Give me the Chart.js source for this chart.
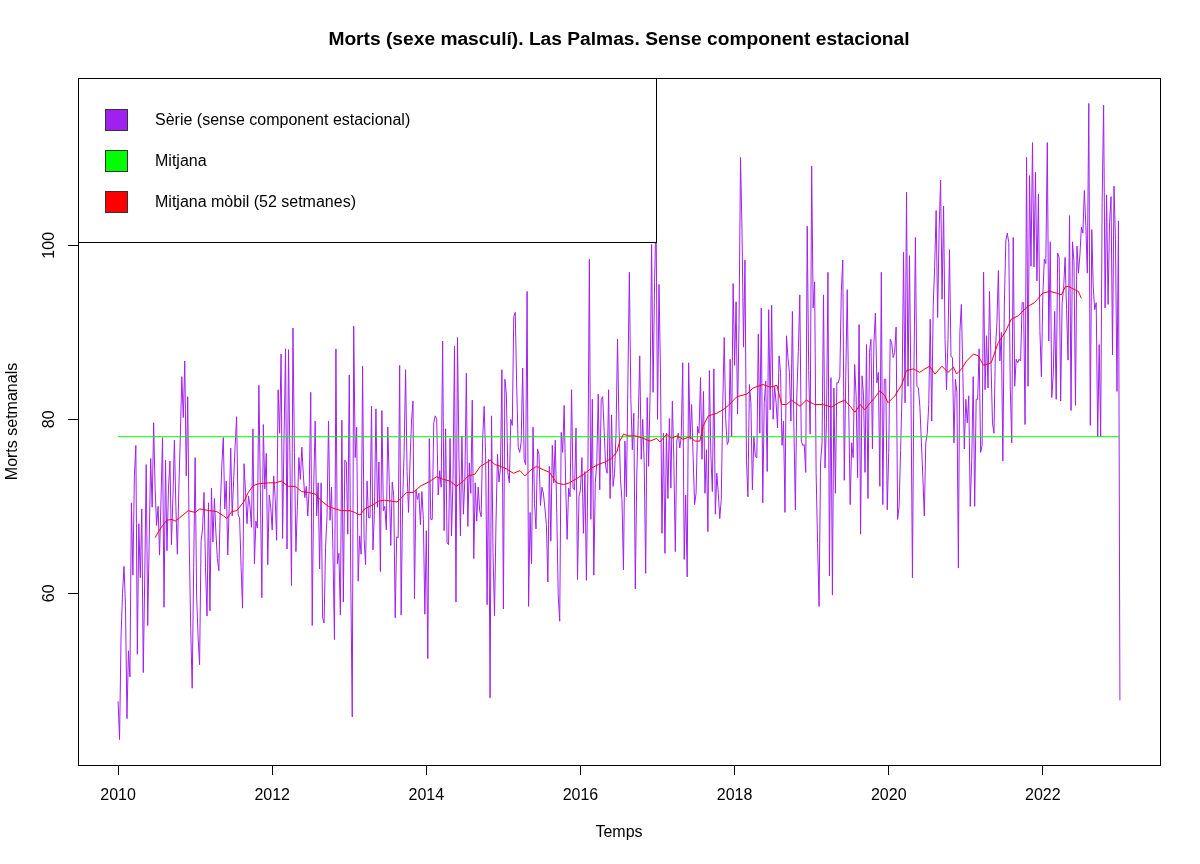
<!DOCTYPE html>
<html>
<head>
<meta charset="utf-8">
<script src="https://cdn.jsdelivr.net/npm/chart.js@4.4.1/dist/chart.umd.min.js"></script>
<style>
  body { margin: 0; background: #fff; }
  canvas { display: block; }
</style>
</head>
<body>
<canvas id="chart" width="1200" height="864"></canvas>
<script>
// weekly series, 52 per year, starting 2010
const startYear = 2010
const freq = 52
const serie = [
  47.6, 43.2, 55, 60, 63.1, 58.6, 45.6, 53.4, 50.4, 70.4,
  62.1, 73.5, 77.0, 53.0, 68.0, 61.8, 69.7, 50.9, 62, 74.8,
  56.3, 66, 75.5, 69.9, 79.6, 72, 67.8, 70, 64.4, 71,
  77.9, 58.4, 75.3, 64.9, 72, 75.2, 65.6, 71, 77.6, 70,
  64.5, 72, 78, 84.9, 80.2, 86.7, 73.5, 82.6, 66, 56,
  49.1, 63, 75.6, 59.7, 55, 51.8, 66, 67.4, 71.6, 63,
  57.4, 70.4, 58.0, 72.1, 65.9, 70.9, 67, 64, 62.6, 70,
  74.7, 77.9, 69.7, 72.9, 64.4, 70, 76.7, 68.9, 73.1, 77,
  80.3, 69.0, 68.7, 63, 58.3, 74.9, 71.6, 68, 71.2, 70,
  67.6, 78.9, 63.4, 68.3, 67.5, 83.9,
  72, 59.5, 79.4, 72.0, 76.1, 63.3, 71.3, 69.9, 67.3, 73.5,
  71.0, 66.1, 83.4, 78.4, 87.5, 66.3, 78, 88.1, 65.1, 88.0,
  75, 60.9, 90.5, 76.2, 64.8, 70, 75.6, 73.1, 76.8, 73.7,
  71.0, 72.3, 68.9, 72.3, 83.1, 56.3, 72.3, 79.8, 68.9, 72.7,
  62.8, 72.7, 57.2, 56.6, 65.3, 68.9, 79.8, 68.4, 72.2, 64.8,
  54.7, 88.1, 63.4, 64.6, 57.5, 79.9, 59.0, 75.3, 75.1, 66.8,
  85.1, 61.8, 45.8, 90.7, 75.6, 79.1, 61.4, 66.6, 64.5, 86.1,
  66.3, 63.3, 72.9, 68.7, 68.7, 81.5, 65.0, 69.5, 81.2, 69.9,
  75.1, 62.5, 81.0, 69.5, 70.0, 67.3, 79.1, 72.7, 65.5, 72.8,
  71.2, 57.2, 66.5, 66.4, 86.2, 57.5, 70.4, 76.2, 85.7, 74.0,
  69.3, 75.2, 79.8,
  82.1, 59.4, 71.9, 70.8, 71.5, 67.9, 71.7, 68.5, 57.6, 67.2,
  52.5, 77.8, 68.5, 68.5, 79.6, 80.4, 80.0, 71.3, 74.1, 72.2,
  89.0, 67.2, 78.9, 65.8, 65.6, 77.8, 66.6, 73.1, 88.4, 59.0,
  89.4, 75.8, 66.6, 78.1, 69.1, 73.1, 85.3, 67.7, 75.0, 71.5,
  82.2, 64.0, 72.7, 68.3, 72.2, 69.5, 68.8, 77.7, 81.5, 76.0,
  58.7, 75.4, 48.0, 80.4, 64.7, 57.4, 68.1, 76.0, 72.8, 74.3,
  85.7, 58.2, 84.6, 82.9, 73.9, 72.7, 80.0, 79.3, 91.8, 92.3,
  83.5, 76.8, 76.2, 77.4, 85.9, 75.4, 74.8, 94.7, 58.5, 69.3,
  63.4, 79.1, 70.3, 67.4, 76.6, 76.0, 70.1, 72.2, 71.5, 69.8,
  67.9, 61.3, 74.6, 66.0, 77.0, 72.7, 77.6, 69.3, 59.7, 56.8,
  78.5, 76.2, 81.6, 72.7, 66.2,
  72.1, 71.1, 83.4, 72.1, 71.9, 79.0, 61.6, 71.1, 71.9, 75.6,
  66.9, 74.0, 61.5, 73.8, 98.4, 68.5, 82.3, 62.1, 72.7, 75.0,
  82.9, 71.9, 82.3, 82.6, 78.6, 74.6, 73.8, 83.4, 70.9, 80.5,
  72.3, 73.8, 78.4, 89.2, 79.2, 73.1, 70.8, 62.7, 77.5, 71.1,
  84.4, 96.9, 82.3, 76.5, 80.7, 60.5, 73.5, 80.0, 87.3, 75.4,
  80.0, 75.0, 62.3, 82.5, 74.6, 83.1, 100.1, 83.1, 95.7, 103.6,
  80.0, 95.5, 85.3, 66.9, 78.4, 64.6, 78.4, 70.9, 80.1, 72.1,
  82.1, 75.4, 64.8, 77.5, 78.4, 76.7, 78.0, 86.5, 63.9, 71.3,
  61.9, 86.5, 77.7, 81.7, 75.8, 70.2, 71.5, 79.2, 78.4, 84.8,
  75.4, 83.2, 71.5, 76.5, 67.1, 85.6, 75.8, 71.7, 85.8, 69.1,
  73.8, 71.5, 68.6, 70.8, 81.5,
  89.4, 80.0, 77.1, 77.5, 86.9, 78, 95.6, 86.2, 93.5, 80.6,
  91.0, 110.1, 101.7, 88.3, 98.3, 75.3, 71.1, 84.0, 81.9, 71.9,
  78.0, 75.7, 75.6, 89.8, 78.4, 92.8, 70.4, 81.9, 84.4, 74.0,
  92.6, 81.1, 93.1, 80.0, 83.8, 81.9, 79.0, 87.3, 85.4, 77.0,
  79.8, 69.3, 89.6, 87.1, 85.4, 79.8, 92.4, 79.2, 69.6, 82.8,
  87.8, 94.3, 77.5, 77.0, 77.1, 73.9, 102.2, 85.6, 78.3, 109.1,
  92.8, 95.8, 73.9, 65.7, 58.5, 75.0, 77.3, 94.3, 74.4, 79.6,
  96.9, 62.0, 84.8, 59.8, 83.6, 71.5, 84.2, 84.2, 84.9, 94.7,
  98.3, 73.0, 84.9, 94.9, 81.5, 70.2, 77.3, 75.6, 86.3, 82.7,
  73.3, 90.9, 66.8, 85.0, 82.7, 73.9, 88.6, 70.9, 87.7, 89.2,
  76.6, 88.8, 92.2, 84.2, 85.4,
  72.3, 96.9, 70.2, 84.6, 84.6, 69.6, 76.2, 89.2, 88.8, 87.1,
  87.7, 90.6, 68.5, 70.0, 76.4, 83.1, 99.2, 81.9, 106.1, 83.8,
  98.8, 83.1, 61.8, 85.4, 100.9, 83.8, 83.6, 81.5, 77.5, 73.5,
  68.9, 77.3, 78.4, 81.7, 91.5, 79.8, 93.0, 97.6, 104.0, 91.7,
  101.8, 107.5, 93.8, 104.5, 89.2, 83.4, 89.2, 99.5, 87.2, 87.1,
  77.3, 84.6, 83.1, 62.9, 90.0, 93.2, 85.4, 76.6, 82.3, 79.6,
  82.7, 70.0, 75.3, 84.9, 70.0, 82.3, 82.3, 88.1, 76.2, 77.0,
  96.9, 83.4, 89.6, 83.6, 94.7, 86.5, 79.6, 78.4, 88.1, 91.1,
  97.1, 86.7, 90.0, 75.2, 93.0, 100.5, 101.4, 100.3, 83.8, 77.3,
  100.9, 83.8, 86.9, 86.5, 86.9, 86.7, 93.4, 93.4, 79.4, 110.1,
  83.8, 108.0, 97.6, 111.8,
  97.5, 108.4, 95.9, 105.9, 90.2, 84.9, 94.4, 98.4, 97.9, 111.8,
  89.0, 100.4, 82.5, 85.1, 92.4, 82.3, 99.1, 98.6, 82.1, 93.4,
  95.0, 98.6, 92.6, 86.8, 103.4, 81.0, 100.4, 98.1, 81.6, 99.9,
  96.8, 98.9, 102.1, 101.4, 106.3, 102.3, 96.8, 116.3, 79.3, 101.8,
  95.2, 92.6, 93.4, 78.0, 88.6, 78.0, 104.9, 116.1, 92.8, 105.8,
  93.2, 102.6, 105.6, 87.4, 106.8, 100.7, 83.2, 102.8, 47.7
]

// mitjana mobil (52 setmanes)
const maYears = [
  2010.48, 2010.545, 2010.63, 2010.70, 2010.74, 2010.80, 2010.91, 2011.00, 2011.06, 2011.19,
  2011.28, 2011.37, 2011.41, 2011.475, 2011.54, 2011.63, 2011.69, 2011.755, 2011.83, 2011.95,
  2012.04, 2012.12, 2012.21, 2012.30, 2012.38, 2012.47, 2012.56, 2012.64, 2012.73, 2012.82,
  2012.90, 2013.01, 2013.07, 2013.14, 2013.20, 2013.29, 2013.38, 2013.46, 2013.55, 2013.62,
  2013.68, 2013.745, 2013.83, 2013.92, 2014.05, 2014.13, 2014.22, 2014.31, 2014.39, 2014.48,
  2014.545, 2014.63, 2014.70, 2014.76, 2014.83, 2014.89, 2014.96, 2015.04, 2015.13, 2015.215,
  2015.28, 2015.345, 2015.43, 2015.52, 2015.60, 2015.69, 2015.78, 2015.855, 2015.97, 2016.06,
  2016.145, 2016.23, 2016.32, 2016.40, 2016.47, 2016.51, 2016.56, 2016.62, 2016.71, 2016.79,
  2016.90, 2016.99, 2017.03, 2017.12, 2017.18, 2017.25, 2017.33, 2017.42, 2017.485, 2017.55,
  2017.59, 2017.66, 2017.77, 2017.865, 2017.92, 2018.03, 2018.16, 2018.24, 2018.37, 2018.46,
  2018.55, 2018.61, 2018.675, 2018.74, 2018.85, 2018.93, 2019.04, 2019.15, 2019.26, 2019.345,
  2019.43, 2019.50, 2019.56, 2019.63, 2019.69, 2019.76, 2019.82, 2019.885, 2019.95, 2019.99,
  2020.08, 2020.17, 2020.23, 2020.32, 2020.40, 2020.47, 2020.53, 2020.60, 2020.69, 2020.77,
  2020.84, 2020.88, 2020.945, 2021.01, 2021.10, 2021.16, 2021.23, 2021.33, 2021.42, 2021.51,
  2021.59, 2021.68, 2021.77, 2021.83, 2021.89, 2021.96, 2022.00, 2022.09, 2022.18, 2022.24,
  2022.29, 2022.33, 2022.39, 2022.46, 2022.48, 2022.50
]
const maValues = [
  66.4, 67.4, 68.4, 68.5, 68.3, 68.7, 69.5, 69.3, 69.7, 69.5,
  69.4, 68.9, 68.6, 69.4, 69.5, 70.5, 71.6, 72.4, 72.6, 72.7,
  72.7, 72.9, 72.3, 72.3, 71.7, 71.6, 71.4, 70.6, 70.0, 69.7,
  69.5, 69.5, 69.3, 69.0, 69.7, 70.1, 70.6, 70.7, 70.6, 70.5,
  71.0, 71.6, 71.6, 72.3, 72.9, 73.4, 73.1, 72.9, 72.3, 72.9,
  73.5, 73.7, 74.6, 74.9, 75.3, 74.8, 74.6, 74.3, 73.8, 74.1,
  73.5, 74.1, 74.6, 74.2, 73.9, 72.7, 72.5, 72.7, 73.3, 73.8,
  74.4, 74.8, 75.1, 75.5, 76.2, 77.5, 78.3, 78.1, 78.1, 77.9,
  77.5, 77.8, 77.4, 78.3, 77.8, 78.1, 77.7, 78.0, 77.5, 77.5,
  79.2, 80.4, 80.7, 81.2, 81.6, 82.6, 82.9, 83.6, 84.0, 83.7,
  83.9, 81.7, 81.7, 82.2, 81.5, 82.2, 81.7, 81.7, 81.4, 81.9,
  82.2, 81.5, 80.8, 81.7, 81.1, 81.9, 82.5, 83.3, 82.7, 81.9,
  82.7, 84.0, 85.6, 85.8, 85.4, 85.8, 86.1, 85.2, 86.1, 85.4,
  86.0, 85.2, 85.8, 86.7, 87.5, 87.3, 86.2, 86.5, 88.8, 90.0,
  91.5, 91.9, 92.7, 93.1, 93.4, 94.1, 94.5, 94.7, 94.5, 94.3,
  95.2, 95.3, 95.0, 94.7, 94.3, 93.9
]

const meanValue = 78.0
const xTicks = [2010, 2012, 2014, 2016, 2018, 2020, 2022]
const yTicks = [60, 80, 100]

const legendLabels = ['Sèrie (sense component estacional)', 'Mitjana', 'Mitjana mòbil (52 setmanes)']
const legendColors = ['#A020F0', '#00FF00', '#FF0000']

const endYear = startYear + (serie.length - 1) / freq
const seriePoints = serie.map((v, i) => ({ x: startYear + i / freq, y: v }))
const maPoints = maYears.map((yr, i) => ({ x: yr, y: maValues[i] }))
const meanPoints = [{ x: startYear, y: meanValue }, { x: endYear, y: meanValue }]

// R style range: data range + 4%
const xSpan = endYear - startYear
const yMinData = Math.min(...serie), yMaxData = Math.max(...serie)
const ySpan = yMaxData - yMinData

const FONT = '"Liberation Sans", Arial, Helvetica, sans-serif'

const rDecor = {
  id: 'rDecor',
  afterDatasetsDraw(chart) {
    const ctx = chart.ctx
    const a = chart.chartArea
    const ys = chart.scales.y
    ctx.save()

    // legend box, top left
    ctx.fillStyle = '#fff'
    ctx.fillRect(a.left, a.top, 578, 164)
    ctx.strokeStyle = '#000'
    ctx.lineWidth = 1
    ctx.strokeRect(a.left + 0.5, a.top + 0.5, 578, 164)
    ctx.font = '16px ' + FONT
    ctx.textBaseline = 'middle'
    ctx.textAlign = 'left'
    legendLabels.forEach((lab, k) => {
      const cy = a.top + 42 + k * 41
      ctx.fillStyle = legendColors[k]
      ctx.fillRect(a.left + 27, cy - 11, 22, 21)
      ctx.strokeStyle = '#333'
      ctx.strokeRect(a.left + 27.5, cy - 10.5, 22, 21)
      ctx.fillStyle = '#000'
      ctx.fillText(lab, a.left + 77, cy + 1)
    })

    // box around plot
    ctx.strokeStyle = '#000'
    ctx.strokeRect(a.left + 0.5, a.top + 0.5, a.right - a.left, a.bottom - a.top)

    // y tick labels, rotated like R
    ctx.fillStyle = '#000'
    ctx.font = '16px ' + FONT
    ctx.textAlign = 'center'
    ctx.textBaseline = 'middle'
    yTicks.forEach(v => {
      const py = ys.getPixelForValue(v)
      ctx.save()
      ctx.translate(50, py)
      ctx.rotate(-Math.PI / 2)
      ctx.fillText(String(v), 0, 0)
      ctx.restore()
    })

    // titles
    ctx.save()
    ctx.translate(13, (a.top + a.bottom) / 2)
    ctx.rotate(-Math.PI / 2)
    ctx.fillText('Morts setmanals', 0, 0)
    ctx.restore()
    ctx.fillText('Temps', (a.left + a.right) / 2, 833)
    ctx.font = 'bold 19.2px ' + FONT
    ctx.fillText('Morts (sexe masculí). Las Palmas. Sense component estacional', (a.left + a.right) / 2, 40)
    ctx.restore()
  }
}

new Chart(document.getElementById('chart'), {
  type: 'line',
  data: {
    datasets: [
      {
        label: legendLabels[2],
        data: maPoints,
        borderColor: legendColors[2],
        borderWidth: 1,
        pointRadius: 0,
        tension: 0,
        order: 0
      },
      {
        label: legendLabels[1],
        data: meanPoints,
        borderColor: legendColors[1],
        borderWidth: 1,
        pointRadius: 0,
        order: 1
      },
      {
        label: legendLabels[0],
        data: seriePoints,
        borderColor: legendColors[0],
        borderWidth: 1,
        pointRadius: 0,
        tension: 0,
        order: 2
      }
    ]
  },
  options: {
    responsive: false,
    animation: false,
    devicePixelRatio: 1,
    layout: { padding: { top: 78, right: 40, left: 0, bottom: 0 } },
    plugins: { legend: { display: false }, tooltip: { enabled: false } },
    scales: {
      x: {
        type: 'linear',
        min: startYear - xSpan * 0.04,
        max: endYear + xSpan * 0.04,
        afterBuildTicks: s => { s.ticks = xTicks.map(v => ({ value: v })) },
        afterFit: s => { s.height = 99 },
        ticks: {
          callback: v => String(v),
          color: '#000',
          font: { family: FONT, size: 16 },
          padding: 11,
          maxRotation: 0
        },
        grid: { drawOnChartArea: false, drawTicks: true, tickLength: 10, color: '#000' },
        border: { display: false }
      },
      y: {
        type: 'linear',
        min: yMinData - ySpan * 0.04,
        max: yMaxData + ySpan * 0.04,
        afterBuildTicks: s => { s.ticks = yTicks.map(v => ({ value: v })) },
        afterFit: s => { s.width = 78 },
        ticks: { display: false },
        grid: { drawOnChartArea: false, drawTicks: true, tickLength: 10, color: '#000' },
        border: { display: false }
      }
    }
  },
  plugins: [rDecor]
})
</script>
</body>
</html>
